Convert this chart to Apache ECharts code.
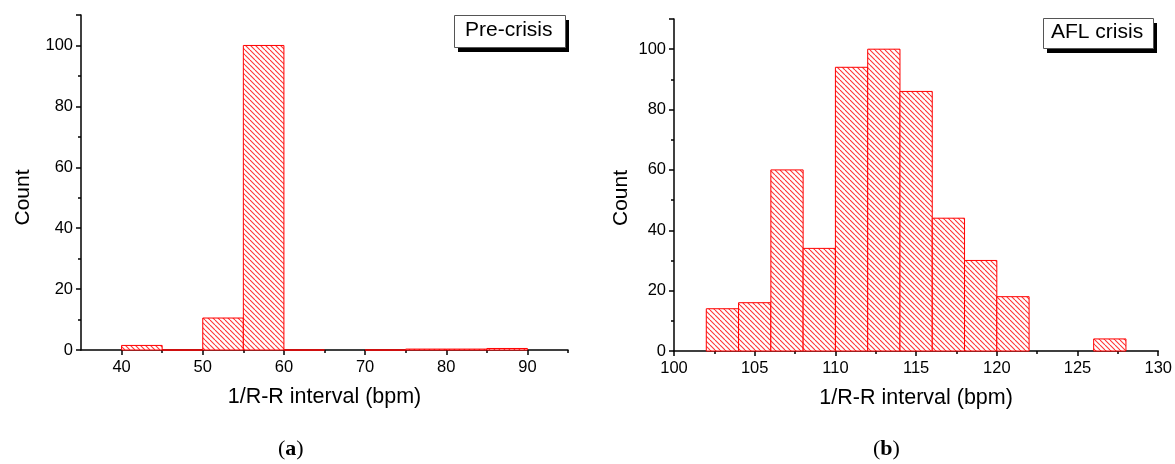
<!DOCTYPE html>
<html>
<head>
<meta charset="utf-8">
<script src="https://cdn.jsdelivr.net/npm/echarts@6/dist/echarts.min.js"></script>
<style>
html,body{margin:0;padding:0;background:#fff;}
#chart{width:1175px;height:464px;}
</style>
</head>
<body>
<div id="chart"></div>
<script>
// ---- Data ----
// Panel (a): Pre-crisis histogram bins [start, end, count]
const preBinStarts = [40, 45, 50, 55, 60, 70, 75, 80, 85];
const preBinEnds   = [45, 50, 55, 60, 65, 75, 80, 85, 90];
const preCounts    = [1.5, 0, 10.5, 100, 0, 0, 0.3, 0.3, 0.5];
// Panel (b): AFL crisis histogram bins
const aflBinStarts = [102, 104, 106, 108, 110, 112, 114, 116, 118, 120, 126];
const aflBinEnds   = [104, 106, 108, 110, 112, 114, 116, 118, 120, 122, 128];
const aflCounts    = [14, 16, 60, 34, 94, 100, 86, 44, 30, 18, 4];
// Tick labels
const preXLabels = [40, 50, 60, 70, 80, 90];
const preXMinor  = [45, 55, 65, 75, 85, 95];
const panelNames = ['Pre-crisis', 'AFL crisis'];
const panelTags  = ['a', 'b'];
const xTitle = '1/R-R interval (bpm)';
const yTitle = 'Count';

// ---- Hatch pattern ----
function makeHatch() {
  const s = 5;
  const c = document.createElement('canvas');
  c.width = s; c.height = s;
  const g = c.getContext('2d');
  g.fillStyle = '#ffffff';
  g.fillRect(0, 0, s, s);
  g.strokeStyle = 'rgba(255,0,0,0.8)';
  g.lineWidth = 1.1;
  for (const k of [-s, 0, s]) {
    g.beginPath();
    g.moveTo(k, 0);
    g.lineTo(k + s, s);
    g.stroke();
  }
  return c;
}
const hatch = makeHatch();

function zip3(a, b, c) { return a.map((v, i) => [v, b[i], c[i]]); }

function renderBar(params, api) {
  const p0 = api.coord([api.value(0), api.value(2)]);
  const p1 = api.coord([api.value(1), 0]);
  return {
    type: 'rect',
    shape: { x: p0[0], y: p0[1], width: p1[0] - p0[0], height: p1[1] - p0[1] },
    style: {
      fill: { image: hatch, repeat: 'repeat' },
      stroke: '#ff0000',
      lineWidth: 1
    }
  };
}

const fontSans = '"Liberation Sans", Arial, sans-serif';
const axisLineStyle = { color: '#000', width: 1.5 };

function yAxisCfg(gridIndex, gap, shift) {
  return {
    type: 'value', gridIndex: gridIndex, min: 0, max: 110, interval: 20,
    name: yTitle, nameLocation: 'middle', nameRotate: 90, nameGap: gap,
    nameTextStyle: { fontFamily: fontSans, fontSize: 21, color: '#000', padding: [0, shift, 0, 0] },
    axisLine: { show: true, lineStyle: axisLineStyle },
    axisTick: { show: true, inside: false, length: 5, lineStyle: axisLineStyle },
    minorTick: { show: true, splitNumber: 2, length: 3, lineStyle: { color: '#000', width: 1.5 } },
    axisLabel: { fontFamily: fontSans, fontSize: 16.5, color: '#000', margin: 8, showMaxLabel: false },
    splitLine: { show: false }
  };
}

const option = {
  backgroundColor: '#fff',
  animation: false,
  grid: [
    { left: 81, top: 15, width: 487, height: 335 },
    { left: 674, top: 19, width: 486, height: 332 }
  ],
  xAxis: [
    {
      type: 'value', gridIndex: 0, min: 35, max: 95,
      name: xTitle, nameLocation: 'middle', nameGap: 36,
      nameTextStyle: { fontFamily: fontSans, fontSize: 21.5, color: '#000' },
      axisLine: { show: true, onZero: false, lineStyle: axisLineStyle },
      axisTick: { show: true, length: 5, customValues: preXLabels, lineStyle: axisLineStyle },
      axisLabel: { fontFamily: fontSans, fontSize: 16.5, color: '#000', margin: 9, customValues: preXLabels },
      splitLine: { show: false }
    },
    {
      type: 'value', gridIndex: 0, min: 35, max: 95, position: 'bottom',
      axisLine: { show: false, onZero: false },
      axisTick: { show: true, length: 3, customValues: preXMinor, lineStyle: axisLineStyle },
      axisLabel: { show: false },
      splitLine: { show: false }
    },
    {
      type: 'value', gridIndex: 1, min: 100, max: 130, interval: 5,
      name: xTitle, nameLocation: 'middle', nameGap: 36,
      nameTextStyle: { fontFamily: fontSans, fontSize: 21.5, color: '#000' },
      axisLine: { show: true, onZero: false, lineStyle: axisLineStyle },
      axisTick: { show: true, length: 5, lineStyle: axisLineStyle },
      minorTick: { show: true, splitNumber: 2, length: 3, lineStyle: { color: '#000', width: 1.5 } },
      axisLabel: { fontFamily: fontSans, fontSize: 16.5, color: '#000', margin: 9 },
      splitLine: { show: false }
    }
  ],
  yAxis: [ yAxisCfg(0, 47, 30), yAxisCfg(1, 42, 26) ],
  series: [
    { type: 'custom', xAxisIndex: 0, yAxisIndex: 0, renderItem: renderBar,
      data: zip3(preBinStarts, preBinEnds, preCounts), encode: { x: [0, 1], y: 2 } },
    { type: 'custom', xAxisIndex: 2, yAxisIndex: 1, renderItem: renderBar,
      data: zip3(aflBinStarts, aflBinEnds, aflCounts), encode: { x: [0, 1], y: 2 } }
  ],
  graphic: [
    // Pre-crisis legend box
    { type: 'rect', left: 458, top: 20, shape: { width: 111, height: 32 }, style: { fill: '#000' }, z: 10 },
    { type: 'rect', left: 454, top: 15, shape: { width: 111, height: 32 }, style: { fill: '#fff', stroke: '#555', lineWidth: 1 }, z: 11 },
    { type: 'text', left: 465, top: 20, style: { text: panelNames[0], font: '21px "Liberation Sans", Arial, sans-serif', fill: '#000' }, z: 12 },
    // AFL crisis legend box
    { type: 'rect', left: 1047, top: 23, shape: { width: 110, height: 30 }, style: { fill: '#000' }, z: 10 },
    { type: 'rect', left: 1043, top: 18, shape: { width: 110, height: 30 }, style: { fill: '#fff', stroke: '#555', lineWidth: 1 }, z: 11 },
    { type: 'text', left: 1051, top: 22, style: { text: panelNames[1], font: '21px "Liberation Sans", Arial, sans-serif', fill: '#000' }, z: 12 },
    // Panel tags
    { type: 'text', left: 278, top: 438, style: {
        text: '(' + '{b|' + panelTags[0] + '})',
        font: '22px "Liberation Serif", "DejaVu Serif", serif', fill: '#000',
        rich: { b: { fontWeight: 'bold', fontSize: 22, fontFamily: '"Liberation Serif", serif' } } } },
    { type: 'text', left: 873, top: 438, style: {
        text: '(' + '{b|' + panelTags[1] + '})',
        font: '22px "Liberation Serif", "DejaVu Serif", serif', fill: '#000',
        rich: { b: { fontWeight: 'bold', fontSize: 22, fontFamily: '"Liberation Serif", serif' } } } }
  ]
};

const chart = echarts.init(document.getElementById('chart'), null, { renderer: 'canvas' });
chart.setOption(option);
</script>
</body>
</html>
